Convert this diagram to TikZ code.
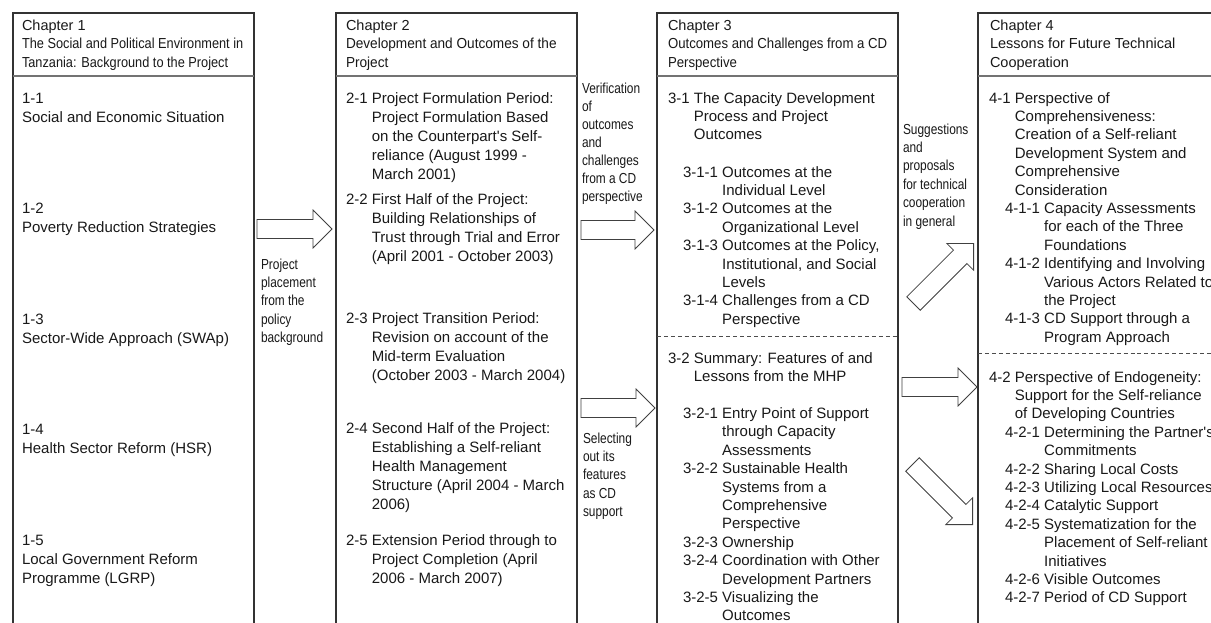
\documentclass[tikz,border=0pt]{standalone}
\usepackage{fontspec}
\setmainfont{Liberation Sans}[Ligatures=TeXOff]
\newfontfamily\narrowfont{Liberation Sans}[FakeStretch=0.82,Ligatures=TeXOff]
\newfontfamily\condfont{Liberation Sans}[FakeStretch=0.88,Ligatures=TeXOff]
\newfontfamily\midcondfont{Liberation Sans}[FakeStretch=0.91,Ligatures=TeXOff]
\newfontfamily\semicondfont{Liberation Sans}[FakeStretch=0.94,Ligatures=TeXOff]
\newsavebox\numbox
% numbered entry with hanging indent under the text after the number
\newcommand\hitem[2]{\sbox\numbox{#1\ }\hangindent=\wd\numbox\hangafter=1\noindent#1\ #2\par}
% top-aligned text block (baseline = first line)
\newcommand\blk[1]{\parbox[t]{330pt}{#1}}
\newcommand\lines[1]{\parbox[t]{330pt}{\noindent#1}}
\begin{document}
\begin{tikzpicture}[x=0.75pt,y=-0.75pt,
  frame/.style={draw=black!80,line width=1pt},
  rule/.style={draw=black!55,line width=0.8pt},
  cut/.style={draw=black!70,line width=0.6pt,dash pattern=on 3pt off 2.2pt},
  txt/.style={anchor=base west,inner sep=0pt,outer sep=0pt,text=black!90},
  body/.style={txt,font=\fontsize{11.25pt}{14.25pt}\selectfont},
  bodyt/.style={txt,font=\fontsize{11.25pt}{13.8pt}\selectfont},
  head/.style={txt,font=\fontsize{10.875pt}{13.875pt}\selectfont},
  note/.style={txt,font=\narrowfont\fontsize{10.875pt}{13.8pt}\selectfont},
  blockarrow/.style={draw=black!75,line width=0.6pt,fill=white,line join=miter},
  pics/barrow/.style={code={
    \path[blockarrow] (0,-9.5) -- ({#1-19},-9.5) -- ({#1-19},-19) -- (#1,0)
      -- ({#1-19},19) -- ({#1-19},9.5) -- (0,9.5) -- cycle;}}
]
\useasboundingbox (0,0) rectangle (1211,622);
\fill[white] (0,0) rectangle (1211,622);
\clip (0,0) rectangle (1211,622);

% ---------- column frames ----------
\draw[frame] (13,13) rectangle (254,640);
\draw[rule] (13,76) -- (254,76);
\draw[frame] (336,13) rectangle (577,640);
\draw[rule] (336,76) -- (577,76);
\draw[frame] (657,13) rectangle (898,640);
\draw[rule] (657,76) -- (898,76);
\draw[cut] (657,336) -- (898,336);
\draw[frame] (978,13) rectangle (1222,640);
\draw[rule] (978,76) -- (1222,76);
\draw[cut] (978,353) -- (1222,353);

% ---------- chapter headings ----------
\node[head] (h1) at (22,30) {\lines{Chapter 1\\{\condfont The Social and Political Environment in}\\{\condfont Tanzania: Background to the Project}}};
\node[head] (h2) at (346,30) {\lines{Chapter 2\\{\semicondfont Development and Outcomes of the}\\{\semicondfont Project}}};
\node[head] (h3) at (668,30) {\lines{Chapter 3\\{\midcondfont Outcomes and Challenges from a CD}\\{\midcondfont Perspective}}};
\node[head] (h4) at (990,30) {\lines{Chapter 4\\Lessons for Future Technical\\Cooperation}};

% ---------- chapter 1 ----------
\node[body] (s11) at (22,103) {\lines{1-1\\Social and Economic Situation}};
\node[body] (s12) at (22,213.5) {\lines{1-2\\Poverty Reduction Strategies}};
\node[body] (s13) at (22,324) {\lines{1-3\\Sector-Wide Approach (SWAp)}};
\node[body] (s14) at (22,434.5) {\lines{1-4\\Health Sector Reform (HSR)}};
\node[body] (s15) at (22,545) {\lines{1-5\\Local Government Reform\\Programme (LGRP)}};

% ---------- chapter 2 ----------
\node[body] (s21) at (346,103) {\blk{\hitem{2-1}{Project Formulation Period:\\Project Formulation Based\\on the Counterpart's Self-\\reliance (August 1999 -\\March 2001)}}};
\node[body] (s22) at (346,204) {\blk{\hitem{2-2}{First Half of the Project:\\Building Relationships of\\Trust through Trial and Error\\(April 2001 - October 2003)}}};
\node[body] (s23) at (346,323) {\blk{\hitem{2-3}{Project Transition Period:\\Revision on account of the\\Mid-term Evaluation\\(October 2003 - March 2004)}}};
\node[body] (s24) at (346,433) {\blk{\hitem{2-4}{Second Half of the Project:\\Establishing a Self-reliant\\Health Management\\Structure (April 2004 - March\\2006)}}};
\node[body] (s25) at (346,545) {\blk{\hitem{2-5}{Extension Period through to\\Project Completion (April\\2006 - March 2007)}}};

% ---------- chapter 3 ----------
\node[bodyt] (s31) at (668,103) {\blk{\hitem{3-1}{The Capacity Development\\Process and Project\\Outcomes}}};
\node[bodyt] (s31x) at (683,177) {\blk{%
  \hitem{3-1-1}{Outcomes at the\\Individual Level}%
  \hitem{3-1-2}{Outcomes at the\\Organizational Level}%
  \hitem{3-1-3}{Outcomes at the Policy,\\Institutional, and Social\\Levels}%
  \hitem{3-1-4}{Challenges from a CD\\Perspective}}};
\node[bodyt] (s32) at (668,363) {\blk{\hitem{3-2}{Summary: Features of and\\Lessons from the MHP}}};
\node[bodyt] (s32x) at (683,418.5) {\blk{%
  \hitem{3-2-1}{Entry Point of Support\\through Capacity\\Assessments}%
  \hitem{3-2-2}{Sustainable Health\\Systems from a\\Comprehensive\\Perspective}%
  \hitem{3-2-3}{Ownership}%
  \hitem{3-2-4}{Coordination with Other\\Development Partners}%
  \hitem{3-2-5}{Visualizing the\\Outcomes}}};

% ---------- chapter 4 ----------
\node[bodyt] (s41) at (989,103) {\blk{\hitem{4-1}{Perspective of\\Comprehensiveness:\\Creation of a Self-reliant\\Development System and\\Comprehensive\\Consideration}}};
\node[bodyt] (s41x) at (1005,213.4) {\blk{%
  \hitem{4-1-1}{Capacity Assessments\\for each of the Three\\Foundations}%
  \hitem{4-1-2}{Identifying and Involving\\Various Actors Related to\\the Project}%
  \hitem{4-1-3}{CD Support through a\\Program Approach}}};
\node[bodyt] (s42) at (989,382) {\blk{\hitem{4-2}{Perspective of Endogeneity:\\Support for the Self-reliance\\of Developing Countries}}};
\node[bodyt] (s42x) at (1005,437.2) {\blk{%
  \hitem{4-2-1}{Determining the Partner's\\Commitments}%
  \hitem{4-2-2}{Sharing Local Costs}%
  \hitem{4-2-3}{Utilizing Local Resources}%
  \hitem{4-2-4}{Catalytic Support}%
  \hitem{4-2-5}{Systematization for the\\Placement of Self-reliant\\Initiatives}%
  \hitem{4-2-6}{Visible Outcomes}%
  \hitem{4-2-7}{Period of CD Support}}};

% ---------- links between chapters ----------
\pic (arA) at (257,229) {barrow=75};
\node[note] (nA) at (261,269) {\lines{Project\\placement\\from the\\policy\\background}};

\node[note,font=\narrowfont\fontsize{10.875pt}{13.5pt}\selectfont] (nB) at (582,93) {\lines{Verification\\of\\outcomes\\and\\challenges\\from a CD\\perspective}};
\pic (arB) at (581,230) {barrow=73};
\pic (arC) at (581,408) {barrow=74};
\node[note] (nC) at (583,443) {\lines{Selecting\\out its\\features\\as CD\\support}};

\node[note] (nD) at (903,134) {\lines{Suggestions\\and\\proposals\\for technical\\cooperation\\in general}};
\pic[rotate=45] (arD) at (913.5,303.5) {barrow=85};
\pic (arE) at (902,387) {barrow=75};
\pic[rotate=-45] (arF) at (912.5,464.5) {barrow=85};
\end{tikzpicture}
\end{document}
